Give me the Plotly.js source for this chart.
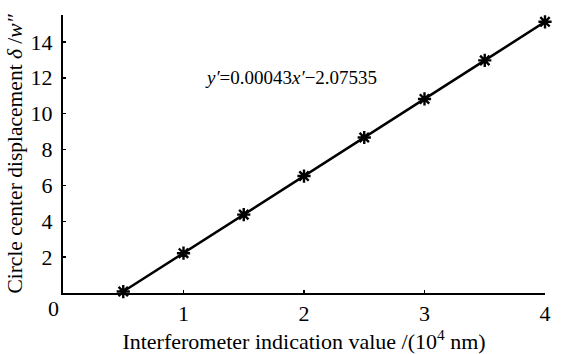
<!DOCTYPE html>
<html>
<head>
<meta charset="utf-8">
<script src="https://cdn.plot.ly/plotly-3.0.1.min.js"></script>
<style>html,body{margin:0;padding:0;background:#fff;}#chart{width:562px;height:354px;}</style>
</head>
<body>
<div id="chart"></div>
<script>
const xValues = [0.5, 1.0, 1.5, 2.0, 2.5, 3.0, 3.5, 4.0];
const yValues = [0.08, 2.22, 4.37, 6.52, 8.67, 10.82, 12.97, 15.12];
const xTicks = [1, 2, 3, 4];
const yTicks = [2, 4, 6, 8, 10, 12, 14];
const originLabel = '0';
const fitLabel = '<i>y′</i>=0.00043<i>x′</i>−2.07535';
const xTitle = 'Interferometer indication value /(10<sup>4</sup> nm)';
const yTitle = 'Circle center displacement <i>δ</i> /<i>w″</i>';

const serif = '"Liberation Serif", "DejaVu Serif", serif';

const data = [{
  x: xValues, y: yValues, type: 'scatter', mode: 'lines+markers',
  line: {color: '#000', width: 2.5},
  marker: {symbol: 'asterisk-open', size: 11, color: '#000', line: {color: '#000', width: 2.4}},
  cliponaxis: false, hoverinfo: 'skip'
}];

const layout = {
  width: 562, height: 354,
  margin: {l: 63, r: 17, t: 15, b: 61},
  paper_bgcolor: '#fff', plot_bgcolor: '#fff',
  showlegend: false,
  font: {family: serif, color: '#000', size: 22},
  xaxis: {
    range: [0, 4], tickvals: xTicks, ticktext: xTicks.map(String),
    showgrid: false, zeroline: false, showline: true, linecolor: '#000', linewidth: 2,
    ticks: 'inside', ticklen: 3, tickwidth: 1.5, tickcolor: '#000',
    tickfont: {family: serif, size: 22},
    title: {text: xTitle, font: {family: serif, size: 22}, standoff: 2}
  },
  yaxis: {
    range: [0, 15.5], tickvals: yTicks, ticktext: yTicks.map(String),
    showgrid: false, zeroline: false, showline: true, linecolor: '#000', linewidth: 2,
    ticks: 'inside', ticklen: 3, tickwidth: 1.5, tickcolor: '#000',
    tickfont: {family: serif, size: 22}, ticklabelstandoff: 4,
    title: {text: yTitle, font: {family: serif, size: 21.5}, standoff: 2}
  },
  annotations: [{
    x: 1.89, y: 12.0, xref: 'x', yref: 'y', text: fitLabel, showarrow: false,
    font: {family: serif, size: 19, color: '#000'}, xanchor: 'center', yanchor: 'middle'
  }, {
    x: 0, y: 0, xref: 'x', yref: 'y', text: originLabel, showarrow: false,
    font: {family: serif, size: 22, color: '#000'}, xanchor: 'center', yanchor: 'middle',
    xshift: -10, yshift: -15
  }]
};

Plotly.newPlot('chart', data, layout, {displayModeBar: false, staticPlot: true});
</script>
</body>
</html>
